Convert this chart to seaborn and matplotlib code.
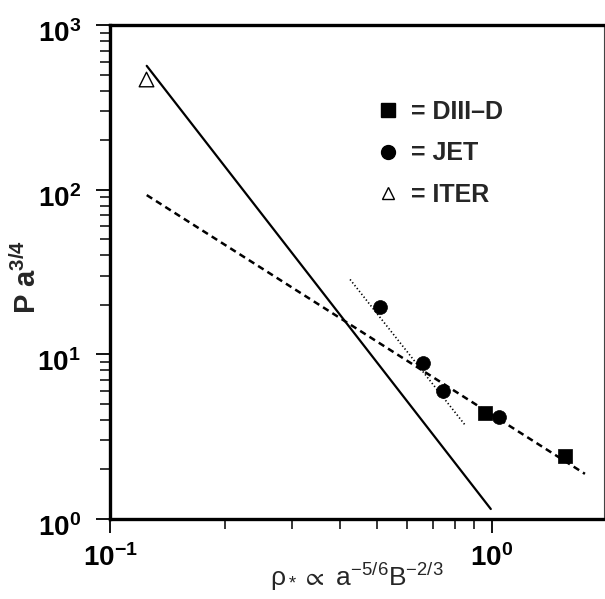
import numpy as np
import pandas as pd
import matplotlib
matplotlib.use("Agg")
import matplotlib.pyplot as plt
import matplotlib.transforms as mtrans
import seaborn as sns
from matplotlib.lines import Line2D

# ---- data ----
diiid_rho = [0.96, 1.556]
diiid_p = [4.40, 2.42]
jet_rho = [0.510, 0.659, 0.746, 1.045]
jet_p = [19.3, 8.82, 5.99, 4.18]
iter_rho = [0.124]
iter_p = [469.0]

# fit lines (end points)
solid_rho = [0.1248, 0.995]
solid_p = [565.0, 1.15]
dashed_rho = [0.1248, 1.756]
dashed_p = [92.7, 1.88]
dotted_rho = [0.4256, 0.856]
dotted_p = [28.5, 3.67]

legend_labels = ["= DIII\u2013D", "= JET", "= ITER"]

sns.set_style("ticks")
plt.rcParams["font.family"] = ["Liberation Sans", "DejaVu Sans"]
plt.rcParams["mathtext.default"] = "regular"

fig = plt.figure(figsize=(6.05, 5.99), dpi=100)
ax = fig.add_axes([110/605, 1-519/599, (604-110)/605, (519-25)/599])

sns.lineplot(x=solid_rho, y=solid_p, ax=ax, color="black", lw=1.6, ls="-")
sns.lineplot(x=dashed_rho, y=dashed_p, ax=ax, color="black", lw=1.8, dashes=False)
ax.lines[-1].set_dashes((2.6, 1.8))
sns.lineplot(x=dotted_rho, y=dotted_p, ax=ax, color="black", lw=1.2)
ax.lines[-1].set_dashes((0.8, 1.4))

sns.scatterplot(x=diiid_rho, y=diiid_p, ax=ax, marker="s", s=95, color="black",
                edgecolor="black", linewidth=0.5, zorder=5)
sns.scatterplot(x=jet_rho, y=jet_p, ax=ax, marker="o", s=100, color="black",
                edgecolor="black", linewidth=0.5, zorder=5)
sns.scatterplot(x=iter_rho, y=iter_p, ax=ax, marker="^", s=110, facecolor="white",
                edgecolor="black", linewidth=1.0, zorder=5)

ax.set_xscale("log")
ax.set_yscale("log")
ax.set_xlim(0.1, 1.97)
ax.set_ylim(1, 1000)

for side in ["left", "bottom", "top"]:
    ax.spines[side].set_linewidth(2.4)
    ax.spines[side].set_color("black")
ax.spines["right"].set_linewidth(0.8)
ax.spines["right"].set_color("#444444")

ax.tick_params(which="major", direction="out", length=10, width=1.3, colors="black",
               labelsize=20)
ax.tick_params(axis="x", which="major", pad=8)
ax.tick_params(axis="y", which="major", pad=11)
ax.tick_params(which="minor", direction="out", length=7, width=1.1, colors="black")
ax.tick_params(top=False, right=False, which="both")
fig.canvas.draw()
shift = mtrans.ScaledTranslation(0, -6/100, fig.dpi_scale_trans)
for lab in ax.get_xticklabels() + ax.get_yticklabels():
    lab.set_fontweight("bold")
for lab in ax.get_yticklabels():
    lab.set_transform(lab.get_transform() + shift)

ax.set_ylabel("P a$^{3/4}$", fontsize=21, fontweight="bold", va="center")
ax.yaxis.set_label_coords((27-110)/494, (519-277)/494)
ax.set_xlabel(r"$\rho_*\propto$ a$^{-5/6}$B$^{-2/3}$", fontsize=19,
              family=["Liberation Sans Narrow", "Liberation Sans", "DejaVu Sans"],
              va="baseline")
ax.xaxis.set_label_coords(0.5, (519-586)/494)

handles = [
    Line2D([], [], ls="none", marker="s", ms=9.5, mfc="black", mec="black"),
    Line2D([], [], ls="none", marker="o", ms=10, mfc="black", mec="black"),
    Line2D([], [], ls="none", marker="^", ms=9, mfc="white", mec="black", mew=1.0),
]
leg = ax.legend(handles, legend_labels, loc="upper left",
                bbox_to_anchor=(377/605, 1-100/599), bbox_transform=fig.transFigure,
                frameon=False, borderpad=0, borderaxespad=0, handlelength=0.9,
                handletextpad=0.45, labelspacing=0.7,
                prop={"size": 18, "weight": "bold"})

fig.savefig("out.png", dpi=100, facecolor="white")
